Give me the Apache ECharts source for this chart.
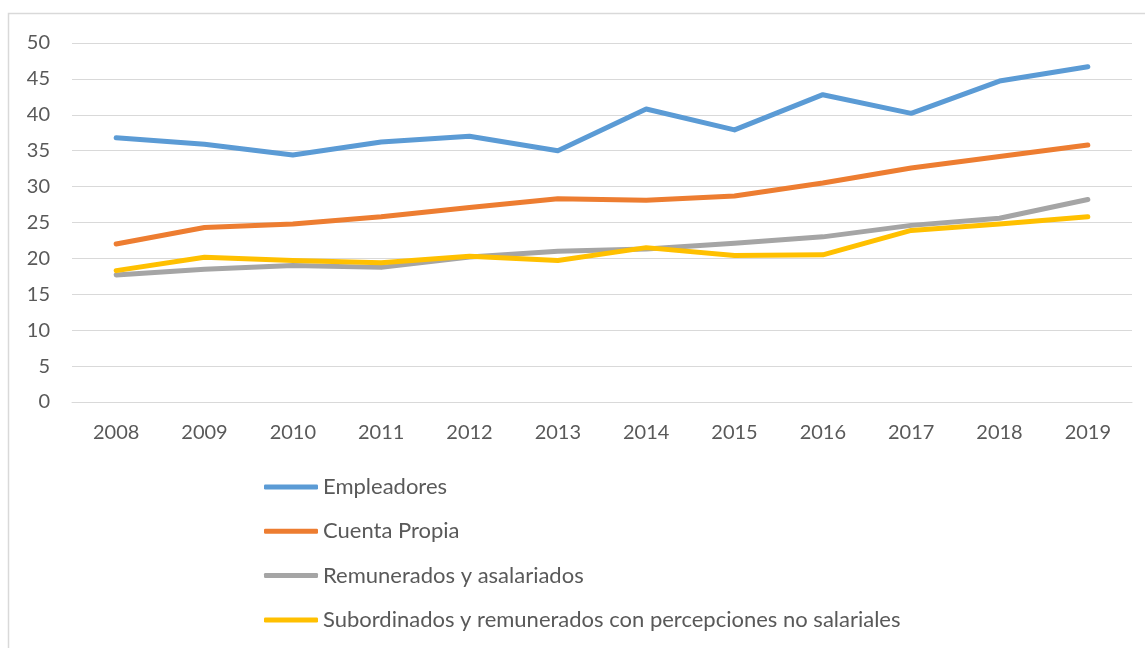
<!DOCTYPE html>
<html>
<head>
<meta charset="utf-8">
<script src="https://cdn.jsdelivr.net/npm/echarts@6/dist/echarts.min.js"></script>
<style>
html,body{margin:0;padding:0;background:#fff;}
#chart{width:1145px;height:648px;}
</style>
</head>
<body>
<div id="chart"></div>
<script>
var years = ['2008','2009','2010','2011','2012','2013','2014','2015','2016','2017','2018','2019'];
var empleadores = [36.8, 35.9, 34.4, 36.2, 37.0, 35.0, 40.8, 37.9, 42.8, 40.2, 44.7, 46.7];
var cuentaPropia = [22.0, 24.3, 24.8, 25.8, 27.1, 28.3, 28.1, 28.7, 30.5, 32.6, 34.2, 35.8];
var remunerados = [17.7, 18.5, 19.0, 18.75, 20.2, 21.0, 21.3, 22.1, 23.0, 24.6, 25.6, 28.2];
var subordinados = [18.3, 20.15, 19.7, 19.4, 20.3, 19.7, 21.5, 20.4, 20.5, 23.9, 24.8, 25.8];
var seriesNames = ['Empleadores','Cuenta Propia','Remunerados y asalariados','Subordinados y remunerados con percepciones no salariales'];
var seriesColors = ['#5B9BD5','#ED7D31','#A5A5A5','#FFC000'];
var yTicks = {min:0, max:50, interval:5};

var chart = echarts.init(document.getElementById('chart'));
var dataSets = [empleadores, cuentaPropia, remunerados, subordinados];
var series = dataSets.map(function(d,i){
  return {
    name: seriesNames[i],
    type: 'line',
    data: d,
    symbol: 'none',
    showSymbol: false,
    color: seriesColors[i],
    lineStyle: {width: 5, color: seriesColors[i], cap: 'round', join: 'round'},
    itemStyle: {color: seriesColors[i]},
    emphasis: {disabled: true},
    animation: false
  };
});
chart.setOption({
  animation: false,
  backgroundColor: '#fff',
  graphic: [{
    type: 'rect',
    shape: {x: 8.5, y: 13.5, width: 1300, height: 800},
    style: {fill: 'none', stroke: '#d9d9d9', lineWidth: 1.5},
    silent: true
  }],
  grid: {left: 72, right: 13, top: 43, bottom: 246, containLabel: false},
  xAxis: {
    type: 'category',
    data: years,
    boundaryGap: true,
    axisLine: {show: true, lineStyle: {color: '#d9d9d9', width: 1}},
    axisTick: {show: false},
    axisLabel: {color: '#595959', fontFamily: 'Lato', fontSize: 20, margin: 21}
  },
  yAxis: {
    type: 'value',
    min: yTicks.min, max: yTicks.max, interval: yTicks.interval,
    axisLine: {show: false},
    axisTick: {show: false},
    axisLabel: {color: '#595959', fontFamily: 'Lato', fontSize: 20, margin: 22},
    splitLine: {lineStyle: {color: '#d9d9d9', width: 1}}
  },
  legend: {
    orient: 'vertical',
    left: 259,
    top: 470,
    itemWidth: 54,
    itemHeight: 5,
    itemGap: 20.3,
    icon: 'roundRect',
    selectedMode: false,
    data: seriesNames,
    textStyle: {color: '#595959', fontFamily: 'Lato', fontSize: 22, lineHeight: 24}
  },
  series: series
});
</script>
</body>
</html>
